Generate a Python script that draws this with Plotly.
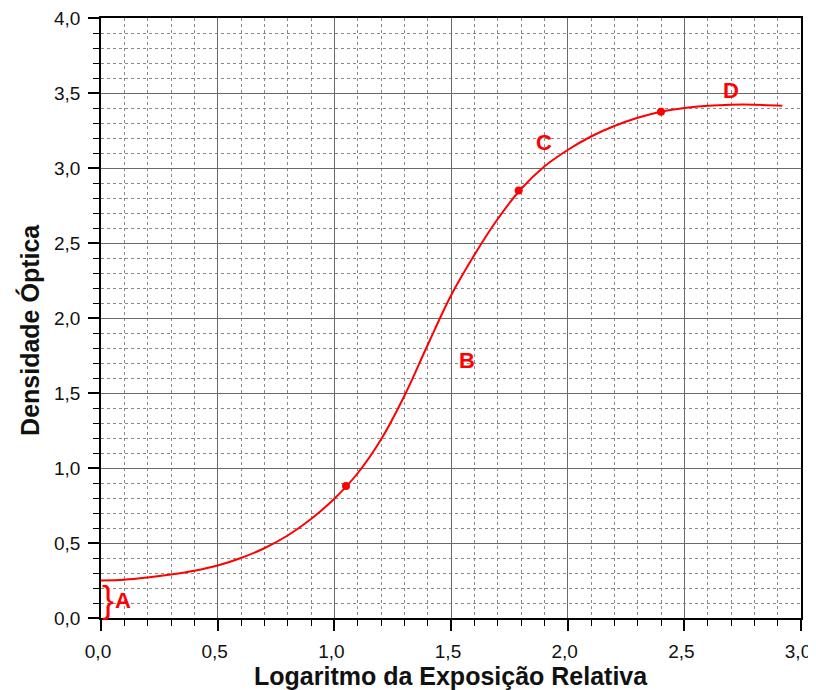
import plotly.graph_objects as go

# Characteristic curve
curve_x = [0.0, 0.1, 0.2, 0.3, 0.4, 0.5, 0.6, 0.7, 0.8, 0.9, 1.0, 1.1, 1.2, 1.3, 1.4, 1.5, 1.6, 1.7,
           1.8, 1.9, 2.0, 2.1, 2.2, 2.3, 2.4, 2.5, 2.6, 2.7, 2.8, 2.92]
curve_y = [0.25, 0.255, 0.27, 0.29, 0.315, 0.35, 0.40, 0.465, 0.55, 0.66, 0.795, 0.965, 1.19, 1.48,
           1.82, 2.15, 2.42, 2.66, 2.86, 3.01, 3.12, 3.21, 3.28, 3.335, 3.375, 3.40, 3.415, 3.422,
           3.422, 3.415]

# Marked points
pts_x = [1.05, 1.79, 2.40]
pts_y = [0.88, 2.85, 3.375]

# Region labels
lbl_text = ["A", "B", "C", "D"]
lbl_x = [0.096, 1.57, 1.90, 2.70]
lbl_y = [0.115, 1.72, 3.17, 3.52]

x_ticks = [0.0, 0.5, 1.0, 1.5, 2.0, 2.5, 3.0]
y_ticks = [0.0, 0.5, 1.0, 1.5, 2.0, 2.5, 3.0, 3.5, 4.0]

red = "#ff0000"
ink = "#111111"

fig = go.Figure()
fig.add_trace(go.Scatter(x=curve_x, y=curve_y, mode="lines",
                         line=dict(color=red, width=2, shape="spline", smoothing=1.0),
                         hoverinfo="skip", showlegend=False))
fig.add_trace(go.Scatter(x=pts_x, y=pts_y, mode="markers",
                         marker=dict(color=red, size=8), showlegend=False))

for t, x, y in zip(lbl_text, lbl_x, lbl_y):
    fig.add_annotation(x=x, y=y, text="<b>" + t + "</b>", showarrow=False,
                       font=dict(family="Liberation Sans, Arial", size=22, color=red))

# brace next to A
fig.add_annotation(x=0.028, y=0.125, text="}", showarrow=False,
                   font=dict(family="Liberation Sans", size=36, color=red))

# axis titles
fig.add_annotation(xref="paper", yref="paper", x=0.5, y=-0.097, yanchor="middle",
                   text="<b>Logaritmo da Exposição Relativa</b>", showarrow=False,
                   font=dict(family="Liberation Sans, Arial", size=25, color=ink))
fig.add_annotation(xref="paper", yref="paper", x=-0.103, y=0.48, xanchor="center",
                   yanchor="middle", textangle=-90,
                   text="<b>Densidade Óptica</b>", showarrow=False,
                   font=dict(family="Liberation Sans, Arial", size=25, color=ink))

axis_common = dict(
    showline=True, linecolor="black", linewidth=1.5, mirror=True,
    ticks="outside", ticklen=11, tickwidth=1.5, tickcolor="black",
    ticklabelstandoff=4, ticklabeloverflow="allow",
    showgrid=True, gridcolor="#6a6a6a", gridwidth=1,
    tickformat=".1f", tickmode="array",
    tickfont=dict(family="Liberation Sans, Arial", size=19, color=ink),
    zeroline=False, automargin=False,
    minor=dict(dtick=0.1, tick0=0, ticks="outside", ticklen=6, tickwidth=1, tickcolor="black",
               showgrid=True, gridcolor="#8a8a8a", griddash="dot", gridwidth=1),
)

fig.update_xaxes(range=[0, 3.0], tickvals=x_ticks, ticklabelshift=-3, **axis_common)
fig.update_yaxes(range=[0, 4.0], tickvals=y_ticks, **axis_common)

# page body adds an 8px margin, so the figure is 8px smaller than the window
fig.update_layout(
    width=808, height=682,
    margin=dict(l=93, r=15, t=10, b=72),
    plot_bgcolor="white", paper_bgcolor="white",
    separators=", ",
    showlegend=False,
)

fig.write_html("out.html")
